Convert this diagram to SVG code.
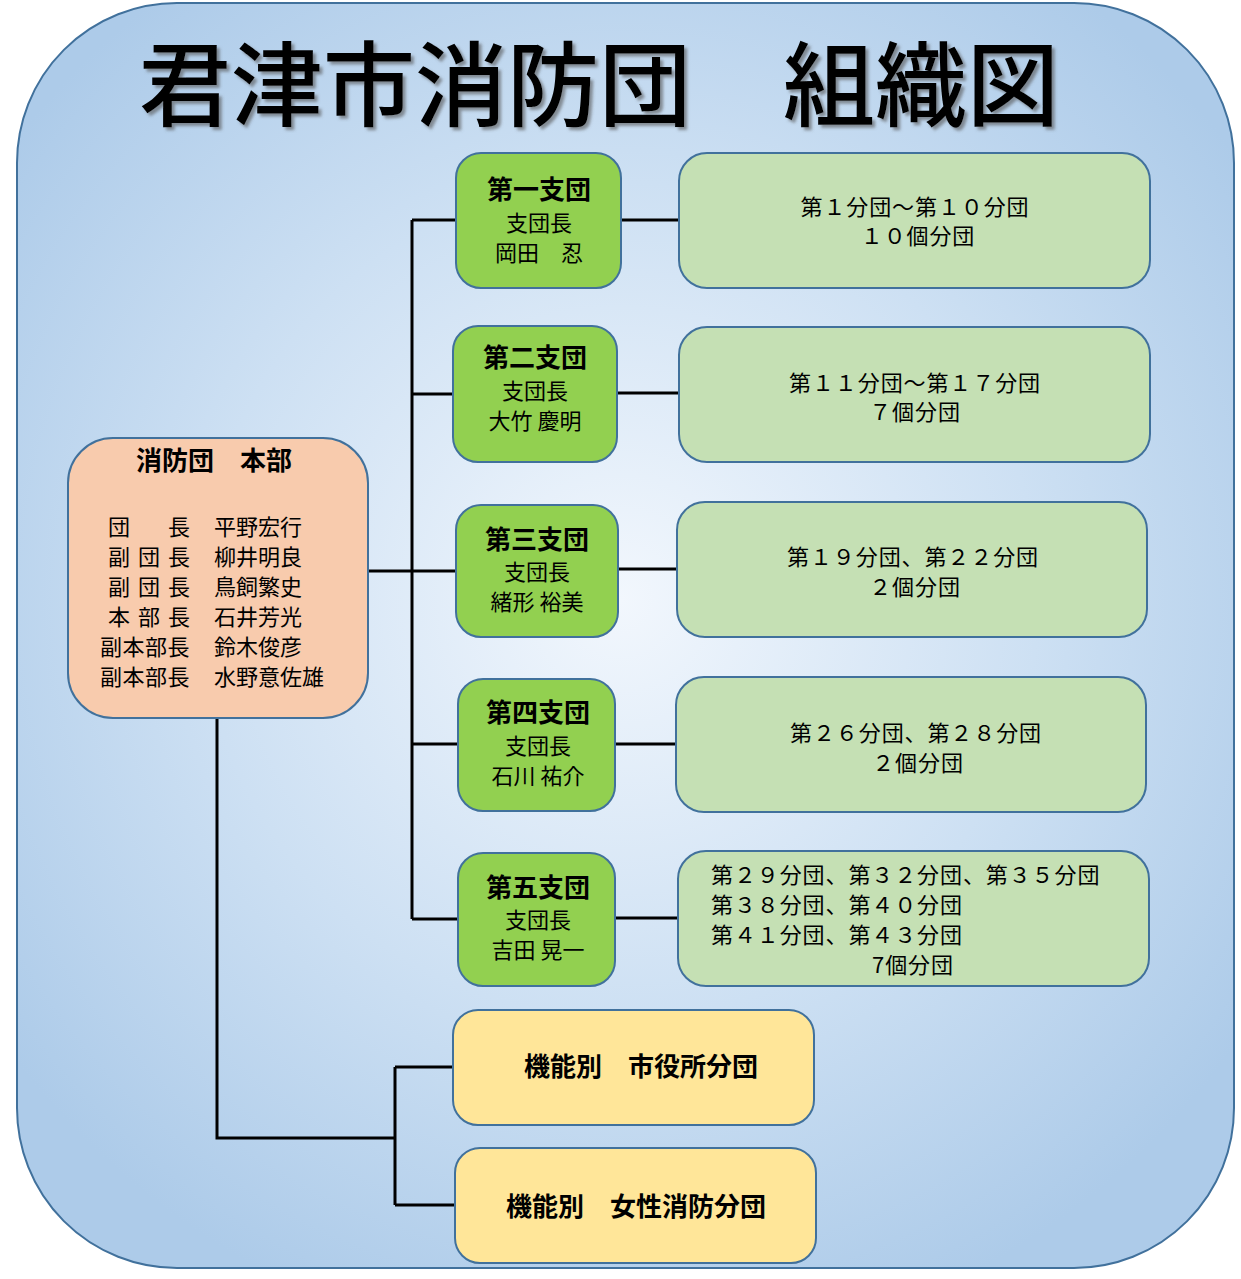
<svg xmlns="http://www.w3.org/2000/svg" width="1241" height="1279" viewBox="0 0 1241 1279">
<defs>
<radialGradient id="bg" cx="620" cy="600" r="760" gradientUnits="userSpaceOnUse">
<stop offset="0" stop-color="#f2f7fd"/>
<stop offset="0.55" stop-color="#cde0f3"/>
<stop offset="1" stop-color="#adcbe9"/>
</radialGradient>
<filter id="sh" x="-5%" y="-20%" width="110%" height="140%">
<feDropShadow dx="3" dy="3" stdDeviation="1.5" flood-color="#555" flood-opacity="0.6"/>
</filter>
</defs>
<style>
text{font-family:"Noto Sans CJK JP","Noto Sans CJK SC",sans-serif;fill:#000;}
.box{stroke:#41719c;stroke-width:2;}
.hq{fill:#f8cbad;}
.br{fill:#92d050;}
.sub{fill:#c5e0b4;}
.fn{fill:#ffe699;}
.t26{font-size:26px;font-weight:700;}
.t22{font-size:22px;}
.t23{font-size:22px;letter-spacing:0.9px;}
.c{text-anchor:middle;}
.ln{stroke:#000;stroke-width:3;fill:none;}
</style>
<rect x="17" y="3" width="1217" height="1265" rx="160" ry="160" fill="url(#bg)" stroke="#41719c" stroke-width="2"/>
<g id="title" filter="url(#sh)">
<text x="599" y="119" class="c" style="font-size:92px;font-weight:500;">君津市消防団　組織図</text>
</g>
<g id="connectors">
<path class="ln" d="M368 571 H412 M412 220 V919 M412 220 H456 M412 394 H453 M412 571 H456 M412 744 H458 M412 919 H458"/>
<path class="ln" d="M621 220 H679 M617 393 H679 M618 569 H677 M615 744 H676 M615 918 H678"/>
<path class="ln" d="M217 718 V1138 H395 M395 1067 V1205 M395 1067 H453 M395 1205 H455"/>
</g>
<g id="hq">
<rect class="box hq" x="68" y="438" width="300" height="280" rx="45"/>
<text x="214" y="470" class="c t26">消防団　本部</text>
<text class="t22" x="108 168" y="535">団長</text>
<text class="t22" x="108 138 168" y="565">副団長</text>
<text class="t22" x="108 138 168" y="595">副団長</text>
<text class="t22" x="108 138 168" y="625">本部長</text>
<text class="t22" x="100 122.5 145 167.5" y="655">副本部長</text>
<text class="t22" x="100 122.5 145 167.5" y="685">副本部長</text>
<text class="t22" x="214" y="535">平野宏行</text>
<text class="t22" x="214" y="565">柳井明良</text>
<text class="t22" x="214" y="595">鳥飼繁史</text>
<text class="t22" x="214" y="625">石井芳光</text>
<text class="t22" x="214" y="655">鈴木俊彦</text>
<text class="t22" x="214" y="685">水野意佐雄</text>
</g>
<g id="branch1">
<rect class="box br" x="456" y="153" width="165" height="135" rx="25"/>
<text x="539" y="199" class="c t26">第一支団</text>
<text x="539" y="231" class="c t22">支団長</text>
<text x="539" y="261" class="c t22">岡田　忍</text>
</g>
<g id="branch2">
<rect class="box br" x="453" y="326" width="164" height="136" rx="25"/>
<text x="535" y="367" class="c t26">第二支団</text>
<text x="535" y="399" class="c t22">支団長</text>
<text x="535" y="429" class="c t22">大竹 慶明</text>
</g>
<g id="branch3">
<rect class="box br" x="456" y="505" width="162" height="132" rx="25"/>
<text x="537" y="549" class="c t26">第三支団</text>
<text x="537" y="580" class="c t22">支団長</text>
<text x="537" y="610" class="c t22">緒形 裕美</text>
</g>
<g id="branch4">
<rect class="box br" x="458" y="679" width="157" height="132" rx="25"/>
<text x="538" y="722" class="c t26">第四支団</text>
<text x="538" y="754" class="c t22">支団長</text>
<text x="538" y="784" class="c t22">石川 祐介</text>
</g>
<g id="branch5">
<rect class="box br" x="458" y="853" width="157" height="133" rx="25"/>
<text x="538" y="897" class="c t26">第五支団</text>
<text x="538" y="928" class="c t22">支団長</text>
<text x="538" y="958" class="c t22">吉田 晃一</text>
</g>
<g id="units1">
<rect class="box sub" x="679" y="153" width="471" height="135" rx="28"/>
<text x="915" y="215" class="c t23">第１分団～第１０分団</text>
<text x="918" y="244" class="c t23">１０個分団</text>
</g>
<g id="units2">
<rect class="box sub" x="679" y="327" width="471" height="135" rx="28"/>
<text x="915" y="391" class="c t23">第１１分団～第１７分団</text>
<text x="915" y="420" class="c t23">７個分団</text>
</g>
<g id="units3">
<rect class="box sub" x="677" y="502" width="470" height="135" rx="28"/>
<text x="913" y="565" class="c t23">第１９分団、第２２分団</text>
<text x="915" y="595" class="c t23">２個分団</text>
</g>
<g id="units4">
<rect class="box sub" x="676" y="677" width="470" height="135" rx="28"/>
<text x="916" y="741" class="c t23">第２６分団、第２８分団</text>
<text x="918" y="771" class="c t23">２個分団</text>
</g>
<g id="units5">
<rect class="box sub" x="678" y="851" width="471" height="135" rx="28"/>
<text x="711" y="883" class="t23">第２９分団、第３２分団、第３５分団</text>
<text x="711" y="913" class="t23">第３８分団、第４０分団</text>
<text x="711" y="943" class="t23">第４１分団、第４３分団</text>
<text x="913" y="973" class="c t23">7個分団</text>
</g>
<g id="func1">
<rect class="box fn" x="453" y="1010" width="361" height="115" rx="25"/>
<text x="641" y="1076" class="c t26">機能別　市役所分団</text>
</g>
<g id="func2">
<rect class="box fn" x="455" y="1148" width="361" height="115" rx="25"/>
<text x="636" y="1216" class="c t26">機能別　女性消防分団</text>
</g>
</svg>
